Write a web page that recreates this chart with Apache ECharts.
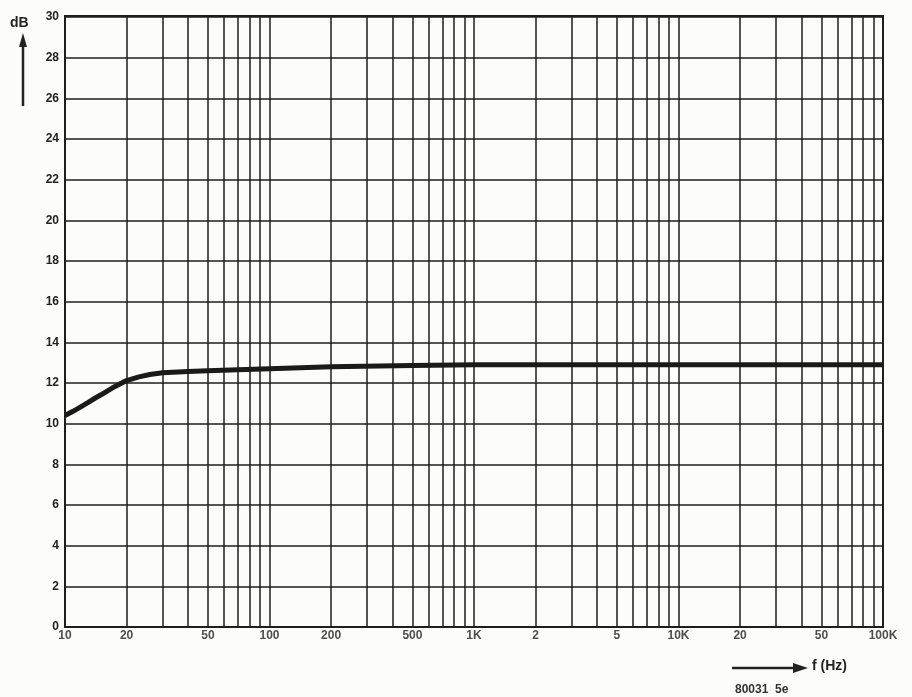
<!DOCTYPE html>
<html>
<head>
<meta charset="utf-8">
<script src="https://cdn.jsdelivr.net/npm/echarts@6/dist/echarts.min.js"></script>
<style>
  html, body { margin: 0; padding: 0; background: #fcfcfb; }
  #chart { width: 912px; height: 697px; }
</style>
</head>
<body>
<div id="chart"></div>
<script>
// frequency response (dB vs Hz)
var freqs = [10, 11, 12, 13, 14, 15, 17, 20, 23, 26, 30, 40, 50, 70, 100, 200, 500, 1000, 2000, 5000, 10000, 20000, 50000, 100000];
var gain  = [10.4, 10.62, 10.84, 11.05, 11.25, 11.42, 11.75, 12.12, 12.3, 12.42, 12.5, 12.57, 12.6, 12.65, 12.7, 12.8, 12.86, 12.9, 12.9, 12.9, 12.9, 12.9, 12.9, 12.9];

// x tick labels, as printed
var tickFreqs  = [10, 20, 50, 100, 200, 500, 1000, 2000, 5000, 10000, 20000, 50000, 100000];
var tickLabels = ['10', '20', '50', '100', '200', '500', '1K', '2', '5', '10K', '20', '50', '100K'];

// y tick labels 0..30 step 2
var yMin = 0, yMax = 30, yStep = 2;

var ink = '#1e1e1e';
var labelFont = 'Liberation Sans, Arial, sans-serif';

// vertical grid lines on 1..9 of every decade
var gridLines = [];
for (var d = 10; d < 100000; d *= 10) {
  for (var m = 2; m <= 9; m++) {
    gridLines.push({ xAxis: d * m });
  }
  if (d > 10) gridLines.push({ xAxis: d });
}

var chart = echarts.init(document.getElementById('chart'));

var option = {
  backgroundColor: '#fcfcfb',
  animation: false,
  grid: { left: 65, right: 29, top: 17, bottom: 70 },
  xAxis: {
    type: 'log',
    logBase: 10,
    min: 10,
    max: 100000,
    axisLine: { show: true, lineStyle: { color: ink, width: 2 } },
    axisTick: { show: false },
    axisLabel: { show: false },
    splitLine: { show: false }
  },
  yAxis: {
    type: 'value',
    min: yMin,
    max: yMax,
    interval: yStep,
    axisLine: { show: true, lineStyle: { color: ink, width: 2 } },
    axisTick: { show: false },
    axisLabel: {
      color: '#222',
      fontSize: 12,
      fontWeight: 'bold',
      fontFamily: labelFont,
      margin: 6
    },
    splitLine: { show: true, lineStyle: { color: ink, width: 1.5 } }
  },
  graphic: [
    { type: 'rect', shape: { x: 65, y: 16, width: 818, height: 611 },
      style: { fill: 'none', stroke: ink, lineWidth: 2 }, z: 100 },
    { type: 'text', left: 10, top: 16,
      style: { text: 'dB', fill: '#222', font: 'bold 14px ' + labelFont } },
    { type: 'line', shape: { x1: 23, y1: 106, x2: 23, y2: 44 },
      style: { stroke: '#222', lineWidth: 2.5 } },
    { type: 'polygon', shape: { points: [[23, 33], [19, 47], [27, 47]] },
      style: { fill: '#222' } },
    { type: 'line', shape: { x1: 732, y1: 668, x2: 795, y2: 668 },
      style: { stroke: '#222', lineWidth: 2.5 } },
    { type: 'polygon', shape: { points: [[808, 668], [793, 663], [793, 673]] },
      style: { fill: '#222' } },
    { type: 'text', left: 812, top: 659,
      style: { text: 'f (Hz)', fill: '#222', font: 'bold 14px ' + labelFont } },
    { type: 'text', left: 735, top: 684,
      style: { text: '80031  5e', fill: '#333', font: 'bold 12px ' + labelFont } }
  ],
  series: [
    {
      name: 'grid',
      type: 'line',
      data: [],
      silent: true,
      markLine: {
        silent: true,
        symbol: 'none',
        label: { show: false },
        lineStyle: { color: ink, width: 1.5, type: 'solid' },
        data: gridLines
      }
    },
    {
      name: 'ticks',
      type: 'scatter',
      symbolSize: 0,
      silent: true,
      clip: false,
      data: tickFreqs.map(function (f, i) { return { value: [f, 0], name: tickLabels[i] }; }),
      label: {
        show: true,
        position: 'bottom',
        distance: 3,
        formatter: function (p) { return p.name; },
        color: '#222',
        fontSize: 12,
        fontWeight: 'bold',
        fontFamily: labelFont
      }
    },
    {
      name: 'gain',
      type: 'line',
      smooth: false,
      showSymbol: false,
      symbol: 'none',
      data: freqs.map(function (f, i) { return [f, gain[i]]; }),
      lineStyle: { color: '#1a1a1a', width: 5, join: 'round', cap: 'butt' },
      z: 10
    }
  ]
};

chart.setOption(option);
</script>
</body>
</html>
